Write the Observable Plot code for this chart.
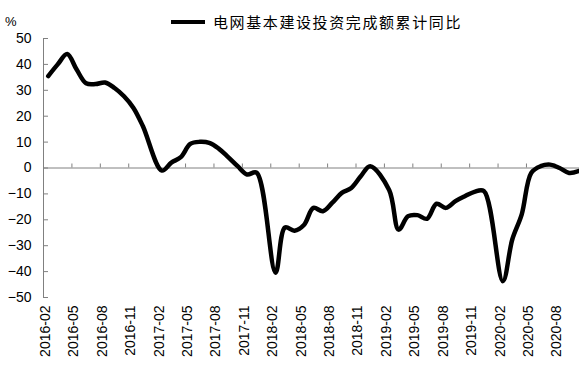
<!DOCTYPE html>
<html><head><meta charset="utf-8">
<script src="https://cdn.jsdelivr.net/npm/d3@7"></script>
<script src="https://cdn.jsdelivr.net/npm/@observablehq/plot@0.6"></script>
<style>
body{margin:0;background:#fff;font-family:"Liberation Sans",sans-serif;}
#wrap{position:relative;width:579px;height:374px;overflow:hidden;background:#fff;}
#head{position:relative;height:30px;}
#pct{position:absolute;left:5px;top:13px;font-size:13px;line-height:18px;}
#legend{position:absolute;left:171px;top:12px;display:flex;align-items:center;height:20px;}
#swatch{display:inline-block;width:34px;height:4px;background:#000;}
#ltext{margin-left:8px;font-family:"Noto Sans CJK SC",sans-serif;font-size:15px;letter-spacing:1.6px;line-height:20px;}
</style></head><body>
<div id="wrap">
  <div id="head">
    <span id="pct">%</span>
    <div id="legend"><span id="swatch"></span><span id="ltext">电网基本建设投资完成额累计同比</span></div>
  </div>
  <div id="chart"></div>
</div>
<script>
const months = [
  "2016-02","2016-03","2016-04","2016-05","2016-06","2016-07","2016-08","2016-09","2016-10","2016-11","2016-12",
  "2017-02","2017-03","2017-04","2017-05","2017-06","2017-07","2017-08","2017-09","2017-10","2017-11","2017-12",
  "2018-02","2018-03","2018-04","2018-05","2018-06","2018-07","2018-08","2018-09","2018-10","2018-11","2018-12",
  "2019-02","2019-03","2019-04","2019-05","2019-06","2019-07","2019-08","2019-09","2019-10","2019-11","2019-12",
  "2020-02","2020-03","2020-04","2020-05","2020-06","2020-07","2020-08","2020-09","2020-10"
];
const values = [
  35.5, 40.0, 44.0, 38.0, 32.7, 32.4, 33.0, 30.9, 27.7, 23.2, 16.1,
  -1.0, 2.1, 4.2, 9.3, 10.1, 9.7, 7.5, 4.2, 0.7, -2.5, -1.8,
  -40.4, -23.0, -24.2, -22.0, -15.4, -16.7, -13.4, -9.6, -7.7, -3.2, 0.7,
  -8.5, -23.8, -18.6, -18.2, -19.6, -13.8, -15.4, -12.8, -10.9, -9.2, -8.9,
  -43.7, -27.6, -17.9, -1.9, 0.7, 1.3, 0.0, -1.9, -1.2
];
const tickLabels = [
  "2016-02","2016-05","2016-08","2016-11","2017-02","2017-05","2017-08","2017-11",
  "2018-02","2018-05","2018-08","2018-11","2019-02","2019-05","2019-08","2019-11",
  "2020-02","2020-05","2020-08"
];
const yTicks = [-50,-40,-30,-20,-10,0,10,20,30,40,50];

const idx = s => { const [y, m] = s.split("-").map(Number); return (y - 2016) * 12 + (m - 2); };
const data = months.map((m, i) => ({x: idx(m) + 0.5, v: values[i]}));
const tickIdx = tickLabels.map(idx);

const chart = Plot.plot({
  width: 579, height: 344,
  marginTop: 8, marginBottom: 77, marginLeft: 43, marginRight: 0,
  x: {type: "linear", domain: [0, 56.6]},
  y: {domain: [-50, 50]},
  style: {fontFamily: "Liberation Sans", fontSize: "14px", color: "#000", background: "#fff"},
  marks: [
    Plot.ruleY([0], {stroke: "#808080", strokeOpacity: 1}),
    Plot.ruleX([0], {stroke: "#808080", strokeOpacity: 1}),
    Plot.ruleX(tickIdx, {x: d => d, y1: 0, y2: 0, insetTop: -4, stroke: "#808080"}),
    Plot.ruleY(yTicks, {y: d => d, x1: 0, x2: 0, insetRight: -5, stroke: "#808080"}),
    Plot.axisY(yTicks, {tickSize: 0, tickPadding: 12, label: null, fontSize: 14}),
    Plot.axisX(tickIdx, {tickSize: 0, tickPadding: 8, tickRotate: -90, dx: 2, label: null, fontSize: 14,
      tickFormat: d => tickLabels[tickIdx.indexOf(d)]}),
    Plot.line(data, {x: "x", y: "v", stroke: "#000", strokeWidth: 4.5, curve: "catmull-rom"})
  ]
});
document.getElementById("chart").appendChild(chart);
</script>
</body></html>
